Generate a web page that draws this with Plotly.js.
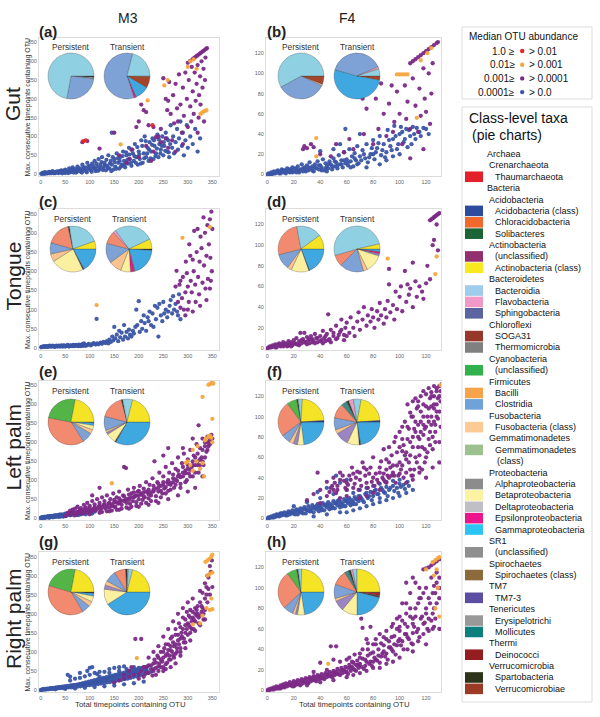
<!DOCTYPE html>
<html><head><meta charset="utf-8">
<script src="https://cdn.plot.ly/plotly-3.0.1.min.js"></script>
<style>html,body{margin:0;padding:0;background:#fff}#chart{width:600px;height:717px}</style>
</head><body><div id="chart"></div>
<script>
// ---------------- DATA ----------------
const columnTitles = ['M3', 'F4'];
const rowTitles = ['Gut', 'Tongue', 'Left palm', 'Right palm'];
const panelLetters = ['(a)','(b)','(c)','(d)','(e)','(f)','(g)','(h)'];
const xTicksM3 = [0,50,100,150,200,250,300,350];
const xTicksF4 = [0,20,40,60,80,100,120];
const yTicksM3 = [0,50,100,150,200,250,300,350];
const yTicksF4 = [0,20,40,60,80,100,120];
const abundanceBins = [['1.0 \u2265','> 0.01'],['0.01\u2265','> 0.001'],['0.001\u2265','> 0.0001'],['0.0001\u2265','> 0.0']];

// (a) Gut M3  [total timepoints, max consecutive]
const gutM3Blue = [[1,1],[3,1],[5,2],[8,1],[10,3],[12,2],[15,4],[18,2],[20,5],[22,3],[25,6],[28,4],[30,3],[33,7],[35,5],[38,8],[40,4],[42,10],[45,6],[48,9],[50,3],[50,12],[55,7],[58,15],[60,5],[62,10],[65,18],[68,8],[70,13],[72,4],[75,20],[78,10],[80,15],[82,6],[85,25],[88,12],[90,18],[92,8],[95,30],[98,14],[100,22],[102,10],[105,28],[108,16],[110,35],[112,8],[115,20],[118,40],[120,12],[122,25],[125,45],[128,18],[130,30],[133,10],[135,22],[138,50],[140,15],[143,35],[145,25],[148,12],[150,40],[152,20],[155,55],[158,30],[160,15],[162,45],[165,25],[168,60],[170,35],[172,18],[175,50],[178,28],[180,70],[182,40],[185,22],[188,55],[190,35],[192,80],[195,45],[198,25],[200,60],[145,110],[202,40],[205,90],[208,30],[210,55],[212,100],[215,45],[218,70],[220,35],[222,85],[225,60],[228,95],[230,40],[232,75],[235,55],[238,105],[240,45],[242,80],[245,65],[248,100],[250,50],[252,75],[255,110],[258,60],[260,90],[262,45],[265,130],[268,70],[270,100],[272,55],[275,85],[278,120],[280,65],[282,95],[285,140],[288,75],[290,110],[292,50],[295,90],[298,130],[300,70],[305,100],[310,80],[315,120],[320,60],[325,95]];
const gutM3BlueBand = [[5,4],[7,2],[9,5],[14,2],[17,6],[21,3],[24,8],[27,2],[31,5],[36,3],[41,7],[44,2],[47,5],[52,8],[56,3],[61,6],[64,12],[67,4],[71,9],[74,6],[77,14],[81,9],[84,4],[87,17],[91,11],[94,5],[97,20],[101,15],[104,6],[107,22],[111,13],[114,28],[117,9],[121,18],[124,32],[127,11],[131,24],[134,38],[137,16],[141,28],[144,8],[147,45],[151,32],[154,14],[157,42],[161,35],[164,20],[167,48],[171,25],[174,58],[177,38],[181,52],[184,30],[187,65],[191,48],[194,30],[197,72],[201,52],[204,28],[207,75],[211,42],[214,88],[217,55],[221,65],[224,42],[227,78],[231,90],[234,48],[237,68],[241,92],[244,55],[247,75],[251,85],[254,62],[257,95],[261,58],[264,80]];
const gutM3Purple = [[85,85],[95,88],[120,68],[150,110],[175,30],[180,40],[195,125],[200,140],[205,185],[210,170],[215,165],[220,130],[225,35],[230,125],[235,98],[240,100],[245,120],[250,255],[255,200],[258,170],[260,195],[262,245],[265,160],[268,90],[270,210],[272,135],[275,240],[278,175],[280,140],[282,265],[285,185],[288,110],[290,230],[292,155],[295,270],[298,200],[300,125],[302,250],[305,180],[307,140],[308,285],[310,220],[312,160],[314,270],[316,195],[318,240],[320,110],[320,290],[322,150],[323,210],[325,260],[326,185],[328,300],[330,230],[332,280],[333,140],[335,250],[336,310],[300,296],[305,301],[310,306],[313,309],[316,312],[319,315],[322,318],[325,321],[328,324],[331,327],[334,330],[337,333],[339,335],[160,50],[185,65],[200,45],[215,75],[230,60],[245,85],[260,70],[275,60],[255,95],[290,80]];
const gutM3Orange = [[163,79],[259,250],[252,236],[218,196],[326,160],[329,163],[332,166],[335,168],[338,170],[305,300],[312,305],[318,280],[300,285]];
const gutM3Red = [[87,88],[92,90],[228,130]];

// (b) Gut F4
const gutF4Blue = [[0,0],[1,1],[2,0],[3,2],[4,1],[5,3],[6,1],[7,2],[8,4],[9,1],[10,3],[11,5],[12,2],[13,4],[14,1],[15,6],[16,3],[17,2],[18,5],[19,7],[20,3],[21,6],[22,2],[23,8],[24,4],[25,5],[26,10],[27,3],[28,7],[29,5],[30,9],[31,4],[32,12],[33,6],[34,8],[35,3],[36,10],[37,6],[38,13],[39,5],[40,9],[41,7],[42,15],[43,4],[44,11],[45,8],[46,6],[47,13],[48,10],[49,5],[50,16],[51,8],[52,12],[53,6],[54,19],[55,10],[56,14],[57,7],[58,22],[59,11],[60,15],[61,9],[62,25],[63,13],[64,18],[65,8],[66,21],[67,14],[68,28],[69,11],[70,18],[72,24],[74,16],[75,30],[76,12],[78,20],[80,34],[81,15],[83,26],[85,38],[86,19],[88,30],[90,22],[91,44],[93,28],[95,35],[96,48],[98,25],[100,40],[101,47],[103,32],[105,45],[106,27],[108,38],[110,47],[112,35],[115,42],[118,46],[85,10],[90,14],[95,18],[59,45],[70,40],[40,23],[50,25],[55,30],[45,3],[75,7],[80,20],[100,20]];
const gutF4BlueBand = [[3,0],[5,1],[7,3],[10,1],[12,4],[14,3],[17,5],[19,2],[22,5],[24,2],[27,6],[29,3],[31,7],[34,4],[36,7],[39,9],[41,4],[44,6],[46,10],[49,8],[51,13],[53,9],[56,10],[58,14],[61,12],[63,7],[66,16],[68,10],[71,14],[73,20],[77,17],[79,26],[82,22],[84,31],[87,24],[89,17],[92,34],[94,24],[97,38],[99,30],[102,42],[104,35],[107,44],[109,30],[111,40],[113,46],[116,38],[120,45],[122,40]];
const gutF4Purple = [[27,25],[28,28],[30,26],[33,30],[35,27],[40,20],[48,18],[52,30],[58,22],[62,35],[65,25],[70,78],[72,75],[73,40],[75,65],[78,83],[80,30],[82,75],[84,45],[86,90],[88,60],[90,38],[92,70],[94,88],[95,42],[96,52],[98,82],[100,60],[102,30],[104,88],[105,55],[106,72],[108,45],[110,95],[112,68],[114,42],[115,85],[116,58],[118,105],[119,75],[120,62],[122,100],[123,50],[124,80],[125,110],[118,25],[108,16],[108,110],[110,112],[112,114],[114,116],[116,118],[118,120],[120,122],[122,124],[124,126],[126,128],[128,130],[129,131]];
const gutF4Orange = [[98,99],[100,99],[102,99],[104,99],[106,99],[37,36],[37,18],[113,56],[124,125],[121,120],[116,113]];
const gutF4Red = [];

// (c) Tongue M3
const tongueM3Blue = [[2,3],[5,4],[8,3],[12,5],[15,4],[18,6],[22,4],[25,5],[28,3],[32,6],[35,4],[38,5],[42,7],[45,4],[48,6],[52,5],[55,8],[58,4],[62,6],[65,7],[68,5],[72,8],[75,6],[78,9],[82,5],[85,10],[88,12],[92,6],[95,8],[98,11],[102,7],[105,10],[108,13],[112,9],[115,12],[118,10],[122,14],[125,11],[128,16],[132,13],[135,18],[138,12],[140,22],[143,16],[146,30],[148,20],[150,55],[152,25],[155,35],[158,18],[160,45],[162,28],[165,40],[168,22],[170,60],[172,30],[175,42],[178,25],[180,48],[182,35],[185,30],[188,45],[190,38],[193,55],[195,100],[197,60],[200,122],[202,42],[205,70],[207,50],[210,85],[212,65],[215,45],[218,80],[220,70],[222,95],[225,60],[228,90],[230,55],[233,110],[235,75],[238,105],[240,30],[242,115],[245,85],[248,70],[250,120],[252,90],[255,100],[258,80],[260,95],[263,110],[265,125],[268,90],[270,135],[272,100],[275,115],[278,95],[280,85],[282,140],[285,75],[114,76]];
const tongueM3BlueBand = [[1,2],[4,3],[7,5],[10,4],[14,3],[17,5],[20,4],[24,6],[27,5],[30,4],[34,5],[37,6],[40,4],[44,5],[47,7],[50,4],[54,6],[57,5],[60,7],[64,5],[67,8],[70,6],[74,7],[77,5],[80,7],[84,8],[87,6],[90,9]];
const tongueM3Purple = [[277,201],[275,160],[280,120],[283,165],[285,175],[288,130],[290,185],[292,100],[295,145],[296,225],[298,195],[300,160],[302,120],[303,270],[305,240],[306,175],[308,145],[310,230],[312,200],[313,305],[315,165],[316,120],[318,250],[320,310],[321,185],[323,140],[324,225],[326,290],[328,260],[330,170],[332,340],[333,215],[335,300],[336,155],[338,240],[340,320],[341,180],[343,270],[345,335],[346,235],[348,355],[349,200],[350,310],[347,175],[345,155],[338,125],[325,110],[310,95],[300,100],[295,85],[285,105]];
const tongueM3Orange = [[114,112],[289,287],[345,315]];
const tongueM3Red = [];

// (d) Tongue F4
const tongueF4Blue = [];
const tongueF4Purple = [[0,0],[1,1],[2,2],[3,1],[4,3],[5,2],[6,4],[7,1],[8,3],[9,5],[10,2],[11,4],[12,6],[13,3],[14,5],[15,2],[16,7],[17,4],[18,6],[19,3],[20,8],[21,5],[22,10],[23,4],[24,7],[25,15],[26,5],[27,9],[28,15],[29,6],[30,11],[31,8],[32,5],[33,12],[34,9],[35,7],[36,14],[37,10],[38,6],[40,12],[41,8],[42,17],[43,10],[44,7],[45,14],[46,33],[47,9],[48,18],[50,12],[52,22],[53,10],[55,16],[56,28],[58,13],[59,20],[60,25],[62,15],[63,30],[65,20],[66,12],[68,26],[69,35],[70,18],[72,28],[73,40],[75,22],[76,32],[78,26],[79,38],[80,30],[81,20],[83,36],[84,28],[85,44],[86,32],[88,24],[89,38],[90,30],[91,46],[92,62],[93,35],[95,42],[96,28],[97,55],[98,38],[100,50],[101,60],[102,36],[104,75],[105,45],[106,62],[107,52],[108,58],[110,40],[112,65],[113,50],[115,60],[117,55],[118,48],[120,63],[121,80],[123,67],[125,100],[126,105],[128,120],[129,95],[92,77],[110,83],[123,124],[124,125],[125,126],[126,127],[127,128],[128,129],[129,130],[130,131]];
const tongueF4PurpleBand = [[2,1],[4,2],[6,1],[8,4],[10,3],[12,2],[14,4],[16,3],[18,2],[20,5],[22,4],[24,3],[26,8],[28,6],[30,4],[32,9],[34,6],[36,5],[38,10],[40,7],[42,5],[44,12],[46,8],[48,6],[50,15],[52,9],[54,13],[56,18],[58,8],[60,12]];
const tongueF4Orange = [[91,87],[128,89],[127,72]];
const tongueF4Red = [];

// (e) Left palm M3
const leftM3Blue = [[0,0],[2,1],[4,2],[6,1],[8,3],[10,2],[12,4],[14,3],[16,5],[18,2],[20,4],[22,6],[24,3],[26,5],[28,7],[30,4],[32,6],[34,8],[36,5],[38,9],[40,6],[42,10],[44,7],[46,4],[48,9],[50,12],[52,6],[55,10],[58,14],[60,8],[63,12],[65,17],[68,10],[70,14],[73,9],[75,16],[78,12],[80,20],[85,15],[90,18],[95,14],[100,20],[110,17]];
const leftM3BlueBand = [[1,1],[3,2],[5,0],[7,3],[9,1],[11,3],[13,2],[15,4],[17,1],[19,5],[21,3],[23,5],[25,2],[27,6],[29,3],[31,7],[33,4],[35,6],[37,3],[39,7],[41,4],[43,8],[45,5],[47,9],[49,6],[51,10],[53,7],[56,11],[59,8],[61,12],[64,9],[66,13],[69,7],[72,11],[74,14],[77,8],[79,12],[82,10],[87,12],[92,10],[97,16],[105,12]];
const leftM3Purple = [[50,5],[55,14],[60,20],[62,10],[65,22],[68,15],[70,25],[72,8],[75,30],[78,18],[80,12],[82,26],[85,20],[88,35],[90,14],[92,28],[95,40],[98,22],[100,32],[102,16],[105,45],[108,25],[110,36],[112,20],[115,50],[118,30],[120,40],[122,22],[125,55],[128,34],[130,45],[132,25],[135,60],[138,38],[140,28],[142,50],[145,32],[148,65],[150,42],[152,30],[155,55],[158,38],[160,70],[162,45],[165,35],[168,60],[170,135],[172,48],[175,40],[178,75],[180,52],[182,38],[185,65],[188,45],[190,80],[192,58],[195,42],[198,70],[200,50],[202,85],[205,62],[208,48],[210,78],[212,55],[215,95],[218,68],[220,52],[222,88],[225,60],[228,105],[230,75],[232,150],[235,58],[238,95],[240,70],[242,120],[245,85],[248,65],[250,110],[252,78],[255,135],[258,95],[260,72],[262,120],[265,88],[268,145],[270,105],[272,80],[275,130],[278,98],[280,160],[282,115],[285,90],[288,145],[290,110],[292,170],[295,125],[298,100],[300,155],[302,118],[305,180],[308,135],[310,110],[312,165],[315,140],[318,195],[320,150],[322,120],[325,185],[328,160],[330,210],[332,140],[335,200],[338,175],[340,215],[342,190],[345,205],[348,220],[350,210],[315,80],[330,110],[300,70],[280,60],[260,50],[240,40],[220,35],[200,30],[180,25],[160,22],[140,18],[120,14],[100,10],[260,185],[250,165],[290,185],[310,210],[322,245],[120,80],[105,60],[174,132]];
const leftM3PurpleBand = [[60,8],[65,12],[70,10],[75,16],[80,22],[85,12],[90,24],[95,18],[100,26],[105,20],[110,28],[115,24],[120,32],[125,28],[130,36],[135,30],[140,40],[145,36],[150,48],[155,42],[160,52],[165,46],[170,58],[175,50],[180,62],[185,55],[190,68],[195,60],[200,72],[205,65],[210,58],[215,70],[220,75],[225,68],[230,85],[235,78],[240,90],[245,72],[250,95],[255,82],[260,100],[265,92],[270,115],[275,102],[280,125],[285,108],[290,135],[295,118],[300,140],[305,128],[310,150],[315,160],[320,170],[325,155],[330,180],[335,190],[340,200],[345,195],[335,160],[325,140],[315,120],[305,110],[295,95],[285,80],[275,88],[265,75],[255,65],[245,55],[235,45],[225,45],[215,40],[205,38],[195,32],[185,30],[175,28],[165,25],[155,22],[145,20],[135,18],[125,16]];
const leftM3PurpleCore = [[150,30],[160,40],[170,45],[180,48],[190,55],[200,60],[210,68],[220,62],[230,70],[240,80],[250,88],[260,90],[270,95],[280,110],[290,120],[300,130],[310,140],[320,140],[330,150],[340,180]];
const leftM3Orange = [[342,352],[345,354],[348,356],[350,358],[352,355],[330,320],[350,262],[337,210],[342,215],[345,218],[348,212],[335,205],[350,200],[320,190],[318,150],[330,145],[325,130],[333,110],[305,140],[310,125],[300,150],[296,146],[145,92],[310,180]];
const leftM3Red = [];

// (f) Left palm F4
const leftF4Blue = [[0,0],[1,1],[2,1],[3,2],[4,1],[5,3],[6,2],[7,4],[8,3],[9,2],[10,5],[11,3],[12,4],[13,6],[14,3],[15,5],[16,7],[17,4],[18,6],[19,8],[20,5],[21,7],[22,9],[23,4],[24,8],[25,10],[26,6],[27,9],[28,11],[29,5],[30,8],[31,12],[32,7],[33,10],[34,13],[35,6],[36,11],[37,9],[38,14],[39,7],[40,12],[41,10],[42,15],[43,8],[44,13],[45,11],[46,16],[47,9],[48,14],[49,12],[50,17],[51,10],[52,15],[53,13],[54,18],[55,11],[56,16],[57,14],[58,19],[59,12],[60,17],[61,15],[62,20],[63,13],[64,18],[65,16],[66,21],[67,14],[68,19],[69,17],[70,22],[72,18],[74,24],[76,20],[78,26],[80,22],[82,28],[84,24],[86,30],[88,26],[90,31],[92,28],[95,32],[98,30],[100,34],[103,33],[106,36],[20,12],[30,16],[40,20],[50,24],[60,28],[35,2],[45,4],[55,6],[65,8],[75,12],[85,16],[95,20],[105,25],[38,26],[45,30],[55,35],[52,42],[60,38]];
const leftF4BlueBand = [[1,0],[3,1],[5,1],[7,2],[9,4],[11,5],[13,4],[15,3],[17,6],[19,5],[21,4],[23,7],[25,6],[27,5],[29,9],[31,8],[33,7],[35,10],[37,12],[39,10],[41,8],[43,13],[45,14],[47,12],[49,10],[51,15],[53,17],[55,14],[57,12],[59,17],[61,19],[63,16],[65,14],[67,19],[69,22],[71,20],[73,16],[75,25],[77,22],[79,18],[81,27],[83,24],[85,20],[87,28],[89,25],[91,22],[93,30],[96,27],[99,25],[101,31],[104,29],[107,32],[70,28],[80,32],[90,36],[100,38],[65,25],[75,30],[85,34],[95,37],[60,6],[70,10],[80,14],[90,18],[100,22],[110,28]];
const leftF4Purple = [[30,18],[35,24],[40,28],[45,36],[48,30],[50,40],[53,32],[55,45],[58,37],[60,28],[62,42],[64,50],[66,34],[68,46],[70,38],[72,55],[74,42],[76,30],[78,50],[80,60],[82,44],[84,35],[86,56],[88,68],[90,48],[92,40],[94,62],[96,75],[98,52],[100,85],[100,44],[102,66],[104,95],[105,58],[106,78],[108,48],[109,100],[110,70],[111,88],[112,60],[113,108],[114,80],[115,50],[116,95],[117,70],[118,112],[119,88],[120,60],[121,100],[122,78],[123,118],[124,92],[125,68],[126,108],[127,85],[128,125],[129,98],[130,75],[131,115],[132,132],[120,40],[110,38],[125,50],[130,55],[128,105],[126,120],[124,110],[118,82],[114,92],[108,62],[102,52],[96,42],[90,35],[85,28],[80,25],[75,22],[70,20],[112,118],[116,120],[120,122],[124,124],[128,128],[130,130],[94,42],[88,44],[60,22],[52,25],[38,45]];
const leftF4PurpleBand = [[40,15],[45,22],[50,28],[55,20],[60,35],[65,30],[70,45],[75,35],[80,40],[85,50],[90,58],[95,52],[98,65],[100,55],[103,72],[105,65],[107,88],[110,80],[112,95],[114,70],[116,85],[118,100],[120,90],[122,108],[124,100],[126,95],[128,112],[130,105],[131,125],[129,118],[127,92],[125,80],[123,72],[121,65],[119,55],[117,48],[115,62],[113,55],[111,48],[109,42],[107,55],[105,45],[103,40],[101,48],[99,42],[97,35],[95,45],[93,50],[91,42],[89,36],[87,40],[85,45],[83,38],[81,32],[79,36],[77,44],[75,48],[73,50],[71,32],[69,28],[67,40],[65,44],[63,38],[61,33],[59,30],[57,42],[55,38],[53,28],[51,35],[49,32],[47,26],[106,112],[110,115],[114,110],[118,125],[122,128],[126,130],[108,104],[102,90],[97,80],[92,70]];
const leftF4PurpleCore = [[100,70],[102,78],[104,62],[106,90],[108,75],[110,100],[112,85],[114,115],[116,105],[118,92],[120,110],[122,95],[124,120],[126,112],[128,100],[130,120],[115,78],[119,68],[123,85],[127,75],[131,90],[105,35],[110,42],[115,45],[88,38],[92,55]];
const leftF4Orange = [[131,131]];
const leftF4Red = [];

// (g) Right palm M3
const rightM3Blue = [[0,0],[3,1],[6,2],[9,1],[12,3],[15,2],[18,4],[21,3],[24,5],[27,3],[30,6],[33,4],[36,7],[39,5],[42,8],[45,5],[48,9],[51,6],[54,10],[57,7],[60,11],[63,7],[66,12],[69,8],[72,13],[75,9],[78,14],[81,10],[84,15],[87,11],[90,16],[93,12],[96,17],[99,13],[102,18],[105,14],[108,19],[111,15],[114,20],[117,16],[120,22],[123,17],[126,24],[129,18],[132,25],[135,20],[138,27],[141,21],[144,28],[147,22],[150,30],[153,24],[156,32],[159,26],[162,34],[165,27],[168,36],[171,29],[174,38],[177,30],[180,40],[183,32],[186,42],[189,34],[192,44],[195,36],[198,46],[201,38],[204,48],[207,40],[210,50],[213,42],[216,52],[219,45],[30,2],[50,3],[70,4],[90,6],[110,8],[130,10],[150,12],[170,15],[190,18],[210,22],[55,40],[60,35],[80,45],[95,50],[100,58],[105,60],[120,35],[140,45],[160,50],[175,55],[190,60],[200,55],[130,48],[115,42],[225,48],[230,55]];
const rightM3BlueBand = [[2,1],[5,2],[8,3],[11,2],[14,4],[17,3],[20,5],[23,4],[26,6],[29,5],[32,7],[35,6],[38,8],[41,7],[44,9],[47,8],[50,10],[53,9],[56,11],[59,10],[62,12],[65,11],[68,13],[71,12],[74,14],[77,13],[80,16],[83,14],[86,18],[89,16],[92,20],[95,18],[98,22],[101,20],[104,24],[107,22],[110,26],[113,24],[116,28],[119,26],[122,30],[125,28],[128,32],[131,30],[134,34],[137,32],[140,36],[143,34],[146,38],[149,36],[152,40],[155,38],[158,42],[161,40],[164,44],[167,42],[170,46],[173,44],[176,48],[179,46],[182,50],[185,48],[188,52],[191,50],[194,54],[197,52],[200,58],[203,50],[206,58],[209,56],[212,60],[215,55],[218,62],[100,40],[110,45],[120,48],[140,55],[150,58],[160,60],[170,62],[60,25],[70,30],[80,32],[90,36]];
const rightM3Purple = [[150,20],[160,25],[170,30],[180,35],[190,40],[200,30],[210,35],[215,60],[220,45],[225,65],[230,50],[232,80],[235,58],[238,90],[240,62],[242,70],[245,100],[248,75],[250,85],[252,110],[255,68],[258,95],[260,120],[262,80],[265,105],[268,140],[270,90],[272,115],[275,160],[278,100],[280,130],[282,175],[285,110],[287,150],[290,190],[292,125],[295,170],[298,205],[300,145],[302,195],[305,210],[308,180],[310,205],[312,160],[315,215],[318,195],[320,220],[322,175],[325,230],[328,205],[330,255],[332,185],[335,280],[338,270],[340,300],[342,295],[345,325],[347,310],[349,340],[335,240],[325,260],[310,240],[300,230],[290,215],[280,200],[270,180],[260,160],[250,140],[240,115],[230,100],[220,85],[285,90],[295,110],[305,130],[265,60],[250,50],[275,70],[193,134],[205,134],[170,40],[180,50],[185,60]];
const rightM3PurpleBand = [[200,42],[205,50],[210,60],[215,45],[220,65],[225,55],[230,70],[235,72],[240,85],[245,80],[250,100],[255,90],[260,105],[265,115],[270,125],[275,120],[280,145],[285,135],[290,160],[295,150],[300,175],[305,165],[310,190],[315,180],[320,200],[325,195],[330,215],[335,210],[340,230],[345,250],[350,270],[255,120],[265,135],[275,145],[285,165],[295,185],[305,190],[315,200],[245,60],[255,55],[265,80],[275,95],[285,100],[295,125],[305,150],[315,155],[325,170],[335,185]];
const rightM3PurpleCore = [[250,60],[258,72],[262,90],[268,100],[272,85],[278,110],[282,120],[288,140],[292,135],[298,160],[302,170],[308,160],[312,185],[318,210],[322,190],[328,220],[332,200],[338,250],[342,265],[240,50],[235,40],[228,38]];
const rightM3Orange = [[336,336],[340,340],[344,344],[348,350],[350,355],[345,305],[350,308],[340,300],[345,210],[350,212],[338,215],[325,175],[330,195],[348,240],[196,84],[310,172]];
const rightM3Red = [];

// (h) Right palm F4
const rightF4Blue = [];
const rightF4Purple = [[0,0],[1,1],[2,1],[3,2],[4,1],[5,3],[6,2],[7,4],[8,2],[9,3],[10,5],[11,3],[12,6],[13,4],[14,7],[15,4],[16,6],[17,8],[18,5],[19,7],[20,9],[21,5],[22,8],[23,10],[24,6],[25,9],[26,11],[27,7],[28,10],[29,12],[30,8],[31,11],[32,13],[33,9],[34,12],[35,14],[36,10],[37,13],[38,15],[39,11],[40,14],[41,16],[42,12],[43,15],[44,17],[45,13],[46,16],[47,18],[48,14],[49,17],[50,19],[51,15],[52,18],[53,21],[54,16],[55,19],[56,22],[57,17],[58,20],[59,23],[60,18],[61,22],[62,25],[63,19],[64,23],[65,27],[66,20],[67,25],[68,29],[69,22],[70,26],[72,31],[74,24],[76,34],[78,28],[80,37],[82,30],[84,40],[86,33],[88,44],[90,36],[92,48],[94,40],[96,53],[98,44],[100,58],[102,48],[104,65],[106,52],[108,72],[110,56],[112,80],[114,60],[116,90],[118,65],[120,100],[122,70],[124,110],[126,80],[128,115],[130,90],[10,2],[20,4],[30,5],[40,8],[50,10],[60,13],[70,17],[80,22],[90,26],[100,32],[110,38],[120,45],[52,43],[48,43],[78,62],[72,61],[71,70],[105,75],[115,100],[118,118],[120,119],[122,120],[124,122],[126,124],[128,126],[130,128],[112,105],[108,95],[100,72],[94,62],[88,52],[82,45],[76,40],[70,32],[55,28],[50,30],[40,27],[45,20],[35,18],[102,85],[98,70],[125,60],[130,60],[127,95],[105,105],[110,110]];
const rightF4PurpleBand = [[1,0],[3,1],[5,1],[7,2],[9,2],[11,4],[13,3],[15,6],[17,5],[19,4],[21,7],[23,6],[25,5],[27,9],[29,8],[31,7],[33,11],[35,10],[37,9],[39,13],[41,12],[43,11],[45,15],[47,14],[49,13],[51,17],[53,16],[55,15],[57,20],[59,18],[61,16],[63,22],[65,21],[67,19],[69,25],[71,23],[73,21],[75,28],[77,26],[79,24],[81,32],[83,29],[85,27],[87,36],[89,33],[91,30],[93,42],[95,38],[97,35],[99,48],[101,44],[103,40],[105,55],[107,50],[109,46],[111,62],[113,57],[115,52],[117,72],[119,66],[121,60],[123,85],[125,75],[127,70],[129,100],[60,30],[70,36],[80,45],[90,50],[100,62],[110,70],[120,80],[128,105],[75,50],[85,55],[95,65],[105,85],[115,90],[125,95],[130,110]];
const rightF4PurpleCore = [[62,32],[64,28],[66,35],[68,24],[72,40],[74,30],[76,46],[78,36],[80,28],[82,50],[84,34],[86,46],[88,38],[90,58],[92,42],[94,52],[96,45],[98,60],[100,50],[102,68],[104,55],[106,62],[108,80],[110,65],[112,72],[114,85],[116,70],[118,95],[120,75],[122,90],[124,68],[126,102],[128,85],[130,100],[106,40],[110,45],[114,48],[118,55],[122,58],[126,62],[95,28],[85,22],[75,19],[65,15]];
const rightF4Orange = [[125,125],[127,127],[129,129],[130,130],[128,118],[126,112],[129,100],[127,80],[130,72],[120,118],[46,26]];
const rightF4Red = [];

// Pie charts: class-level taxa composition (percent), in drawing order from 3 o'clock counter-clockwise
const pieGutM3Persistent = [['Bacteroidia',72],['Clostridia',26],['Erysipelotrichi',1],['Spartobacteria',1]];
const pieGutM3Transient = [['Bacteroidia',21],['Clostridia',59],['Epsilonproteobacteria',1.5],['Gammaproteobacteria',10],['Verrucomicrobiae',8],['Fusobacteria (class)',0.5]];
const pieGutF4Persistent = [['Bacteroidia',58],['Clostridia',35],['Fusobacteria (class)',1],['Verrucomicrobiae',6]];
const pieGutF4Transient = [['Bacteroidia',5],['Flavobacteria',1.5],['Clostridia',39],['Gammaproteobacteria',51.5],['Verrucomicrobiae',3]];
const pieTongueM3Persistent = [['Actinobacteria (class)',5.5],['Bacteroidia',22],['Spartobacteria',1],['Bacilli',17],['Clostridia',8],['Fusobacteria (class)',5.5],['Betaproteobacteria',23],['Solibacteres',1],['Gammaproteobacteria',17]];
const pieTongueM3Transient = [['Actinobacteria (class)',7],['Bacteroidia',28],['Flavobacteria',2],['Bacilli',9],['Clostridia',14],['Fusobacteria (class)',9],['Betaproteobacteria',7],['Epsilonproteobacteria',3],['Gammaproteobacteria',20],['Spartobacteria',1]];
const pieTongueF4Persistent = [['Actinobacteria (class)',10],['Bacteroidia',18],['Bacilli',26],['Clostridia',11],['Fusobacteria (class)',3],['Betaproteobacteria',12.5],['Spartobacteria',0.5],['Gammaproteobacteria',19]];
const pieTongueF4Transient = [['Actinobacteria (class)',3.5],['Bacteroidia',51],['Bacilli',8],['Clostridia',17],['Fusobacteria (class)',3],['Betaproteobacteria',12.5],['Alphaproteobacteria',1.5],['Epsilonproteobacteria',1.5],['Gammaproteobacteria',2]];
const pieLeftM3Persistent = [['Actinobacteria (class)',22],['Cyanobacteria',25],['Bacilli',37],['Clostridia',7.5],['Fusobacteria (class)',3],['Betaproteobacteria',3],['Gammaproteobacteria',2],['Spartobacteria',0.5]];
const pieLeftM3Transient = [['Actinobacteria (class)',21],['Bacteroidia',7],['Spartobacteria',1],['Bacilli',17],['Clostridia',10],['Fusobacteria (class)',1.5],['Alphaproteobacteria',1.5],['Betaproteobacteria',7],['Solibacteres',1],['Gammaproteobacteria',33]];
const pieLeftF4Persistent = [['Acidobacteria (class)',1],['Actinobacteria (class)',23],['Bacteroidia',3],['Spartobacteria',1],['Cyanobacteria',7],['Bacilli',25],['Clostridia',6.5],['Fusobacteria (class)',3],['Alphaproteobacteria',3],['Betaproteobacteria',4.5],['Gammaproteobacteria',23]];
const pieLeftF4Transient = [['Acidobacteria (class)',1],['Actinobacteria (class)',21],['Bacteroidia',5.5],['Flavobacteria',3.5],['Thermomicrobia',1.5],['Sphingobacteria',4],['Bacilli',10.5],['Clostridia',8.5],['Fusobacteria (class)',3],['Alphaproteobacteria',9.5],['Betaproteobacteria',8.5],['Spartobacteria',1],['Gammaproteobacteria',22.5]];
const pieRightM3Persistent = [['Actinobacteria (class)',22],['Cyanobacteria',23.5],['Bacilli',38],['Clostridia',6],['Fusobacteria (class)',3.5],['Betaproteobacteria',4],['Gammaproteobacteria',2],['Spartobacteria',1]];
const pieRightM3Transient = [['Actinobacteria (class)',21],['Bacteroidia',3],['Erysipelotrichi',1],['Spartobacteria',1],['Bacilli',8],['Clostridia',8],['Fusobacteria (class)',3],['Alphaproteobacteria',3],['Betaproteobacteria',11],['Gammaproteobacteria',41]];
const pieRightF4Persistent = [['Actinobacteria (class)',24.5],['Bacteroidia',2.5],['Spartobacteria',1],['Cyanobacteria',7],['Bacilli',27],['Clostridia',7],['Fusobacteria (class)',2],['Alphaproteobacteria',1.5],['Betaproteobacteria',5],['Gammaproteobacteria',22.5]];
const pieRightF4Transient = [['Actinobacteria (class)',25],['Bacteroidia',3],['Flavobacteria',1.5],['Thermomicrobia',1.5],['Sphingobacteria',3],['Bacilli',10.5],['Clostridia',10],['Fusobacteria (class)',2],['Alphaproteobacteria',7.5],['Betaproteobacteria',11],['Gammaproteobacteria',21],['Solibacteres',1.5],['Deinococci',2],['Spartobacteria',0.5]];

// Taxonomy legend (domain -> phylum -> classes)
const taxaTree = [
  ['Archaea', [['Crenarchaeota', ['Thaumarchaeota']]]],
  ['Bacteria', [
    ['Acidobacteria', ['Acidobacteria (class)','Chloracidobacteria','Solibacteres']],
    ['Actinobacteria', ['(unclassified)','Actinobacteria (class)']],
    ['Bacteroidetes', ['Bacteroidia','Flavobacteria','Sphingobacteria']],
    ['Chloroflexi', ['SOGA31','Thermomicrobia']],
    ['Cyanobacteria', ['(unclassified)']],
    ['Firmicutes', ['Bacilli','Clostridia']],
    ['Fusobacteria', ['Fusobacteria (class)']],
    ['Gemmatimonadetes', ['Gemmatimonadetes (class)']],
    ['Proteobacteria', ['Alphaproteobacteria','Betaproteobacteria','Deltaproteobacteria','Epsilonproteobacteria','Gammaproteobacteria']],
    ['SR1', ['(unclassified)']],
    ['Spirochaetes', ['Spirochaetes (class)']],
    ['TM7', ['TM7-3']],
    ['Tenericutes', ['Erysipelotrichi','Mollicutes']],
    ['Thermi', ['Deinococci']],
    ['Verrucomicrobia', ['Spartobacteria','Verrucomicrobiae']]
  ]]
];

// ---------------- STYLES ----------------
const FONT = 'Liberation Sans, Arial, Helvetica, sans-serif';
const W = 600, H = 717;
const abundanceColors = ['#E3262B', '#F5A63F', '#7B2A86', '#3A55A5'];
const pieColors = {
  'Actinobacteria (class)':'#F4E425','Bacteroidia':'#8FD0E2','Flavobacteria':'#EE9CC6','Sphingobacteria':'#3F8C86',
  'Thermomicrobia':'#2F3B27','Cyanobacteria':'#53B548','Bacilli':'#F28A70','Clostridia':'#7EA2D5',
  'Fusobacteria (class)':'#F8C38F','Alphaproteobacteria':'#9B86C3','Betaproteobacteria':'#FBF0A0',
  'Epsilonproteobacteria':'#E2207F','Gammaproteobacteria':'#40A8E0','Acidobacteria (class)':'#2C3F8E',
  'Deinococci':'#B0242A','Verrucomicrobiae':'#A4462C','Spartobacteria':'#3C3C3C','Solibacteres':'#4A4A4A',
  'Erysipelotrichi':'#9C9C9C'
};
const legendColors = {
  'Crenarchaeota|Thaumarchaeota':'#E3202A','Acidobacteria|Acidobacteria (class)':'#2C4A9E',
  'Acidobacteria|Chloracidobacteria':'#F0682C','Acidobacteria|Solibacteres':'#1B6436',
  'Actinobacteria|(unclassified)':'#92306F','Actinobacteria|Actinobacteria (class)':'#F8E81F',
  'Bacteroidetes|Bacteroidia':'#9FCBEC','Bacteroidetes|Flavobacteria':'#F199C7','Bacteroidetes|Sphingobacteria':'#5B63A0',
  'Chloroflexi|SOGA31':'#96392A','Chloroflexi|Thermomicrobia':'#808080','Cyanobacteria|(unclassified)':'#30B14C',
  'Firmicutes|Bacilli':'#F6A34A','Firmicutes|Clostridia':'#6FA2D9','Fusobacteria|Fusobacteria (class)':'#FDC995',
  'Gemmatimonadetes|Gemmatimonadetes (class)':'#9CC18E','Proteobacteria|Alphaproteobacteria':'#8C8C8C',
  'Proteobacteria|Betaproteobacteria':'#FBF3A1','Proteobacteria|Deltaproteobacteria':'#BFBFC5',
  'Proteobacteria|Epsilonproteobacteria':'#EC168C','Proteobacteria|Gammaproteobacteria':'#2CC4F2',
  'SR1|(unclassified)':'#8F8F8F','Spirochaetes|Spirochaetes (class)':'#8C6A3A','TM7|TM7-3':'#5B4DA2',
  'Tenericutes|Erysipelotrichi':'#999999','Tenericutes|Mollicutes':'#0D7F7D','Thermi|Deinococci':'#951C1F',
  'Verrucomicrobia|Spartobacteria':'#2B3418','Verrucomicrobia|Verrucomicrobiae':'#9C3B25'
};

// ---------------- BUILD ----------------
const px = v => v / W;
const py = v => 1 - v / H;

const panels = [
  [gutM3Red, gutM3Orange, gutM3Purple, gutM3Blue.concat(gutM3BlueBand), pieGutM3Persistent, pieGutM3Transient],
  [gutF4Red, gutF4Orange, gutF4Purple, gutF4Blue.concat(gutF4BlueBand), pieGutF4Persistent, pieGutF4Transient],
  [tongueM3Red, tongueM3Orange, tongueM3Purple, tongueM3Blue.concat(tongueM3BlueBand), pieTongueM3Persistent, pieTongueM3Transient],
  [tongueF4Red, tongueF4Orange, tongueF4Purple.concat(tongueF4PurpleBand), tongueF4Blue, pieTongueF4Persistent, pieTongueF4Transient],
  [leftM3Red, leftM3Orange, leftM3Purple.concat(leftM3PurpleBand, leftM3PurpleCore), leftM3Blue.concat(leftM3BlueBand), pieLeftM3Persistent, pieLeftM3Transient],
  [leftF4Red, leftF4Orange, leftF4Purple.concat(leftF4PurpleBand, leftF4PurpleCore), leftF4Blue.concat(leftF4BlueBand), pieLeftF4Persistent, pieLeftF4Transient],
  [rightM3Red, rightM3Orange, rightM3Purple.concat(rightM3PurpleBand, rightM3PurpleCore), rightM3Blue.concat(rightM3BlueBand), pieRightM3Persistent, pieRightM3Transient],
  [rightF4Red, rightF4Orange, rightF4Purple.concat(rightF4PurpleBand, rightF4PurpleCore), rightF4Blue, pieRightF4Persistent, pieRightF4Transient]
];

const rowsPx = [[38,176],[209,350],[381,520],[552,692]];
const colsPx = [[39,219],[266,441]];
const xRanges = [[-3.5,363.6],[-1,131.3]];
const yRanges = [[-5,362],[-1.5,135]];
const pieRowY = [76, 249, 422, 592];
const pieColX = [[71,127],[301,357]];
const pieRowShift = [0, 2, 0, 0];
const pieTitleY = [47, 219, 391, 562];
const letterY = [31, 201, 371, 541];
const letterX = [37, 265];
const R = 23;

const traces = [];
const layout = {
  width: W, height: H, margin: {l:0, r:0, t:0, b:0},
  paper_bgcolor: '#fff', plot_bgcolor: '#fff', showlegend: false,
  font: {family: FONT, color: '#222'},
  annotations: [], shapes: []
};

function pieTrace(slices, cx, cy) {
  const rev = slices.slice().reverse();
  return {
    type: 'pie', labels: rev.map(s => s[0]), values: rev.map(s => s[1]),
    marker: {colors: rev.map(s => pieColors[s[0]]), line: {color: 'rgba(50,50,50,0.55)', width: 0.5}},
    sort: false, direction: 'clockwise', rotation: 90, textinfo: 'none', hoverinfo: 'label+percent',
    domain: {x: [px(cx - R), px(cx + R)], y: [py(cy + R), py(cy - R)]}, showlegend: false
  };
}

panels.forEach((p, i) => {
  const row = Math.floor(i / 2), col = i % 2, k = i + 1;
  const xa = 'xaxis' + (k > 1 ? k : ''), ya = 'yaxis' + (k > 1 ? k : '');
  const common = {showline: true, mirror: true, linecolor: '#dcdcdc', linewidth: 1, showgrid: false,
    zeroline: false, ticks: '', tickfont: {size: 5.5, color: '#666', family: FONT}, fixedrange: true};
  layout[xa] = Object.assign({}, common, {domain: [px(colsPx[col][0]), px(colsPx[col][1])],
    range: xRanges[col], anchor: 'y' + k, tickmode: 'array',
    tickvals: col === 0 ? xTicksM3 : xTicksF4});
  layout[ya] = Object.assign({}, common, {domain: [py(rowsPx[row][1]), py(rowsPx[row][0])],
    range: yRanges[col], anchor: 'x' + k, tickmode: 'array',
    tickvals: col === 0 ? yTicksM3 : yTicksF4});
  [3, 2, 1, 0].forEach(c => {
    const pts = p[c];
    if (!pts.length) return;
    traces.push({type: 'scatter', mode: 'markers', x: pts.map(q => q[0]), y: pts.map(q => q[1]),
      xaxis: 'x' + k, yaxis: 'y' + k, hoverinfo: 'x+y',
      marker: {size: 4.3, color: abundanceColors[c], opacity: 0.95, line: {width: 0}}});
  });
  const cy = pieRowY[row];
  const sh = col === 0 ? pieRowShift[row] : 0;
  traces.push(pieTrace(p[4], pieColX[col][0] + sh, cy));
  traces.push(pieTrace(p[5], pieColX[col][1] + sh, cy));
  ['Persistent', 'Transient'].forEach((t, j) => {
    layout.annotations.push({text: t, xref: 'paper', yref: 'paper', x: px(pieColX[col][j] + sh), y: py(pieTitleY[row]),
      xanchor: 'center', yanchor: 'middle', showarrow: false, font: {size: 8.3, color: '#333', family: FONT}});
  });
  layout.annotations.push({text: '<b>' + panelLetters[i] + '</b>', xref: 'paper', yref: 'paper',
    x: px(letterX[col]), y: py(letterY[row]), xanchor: 'left', yanchor: 'middle', showarrow: false,
    font: {size: 15, color: '#222', family: FONT}});
});

[[128, columnTitles[0]], [347, columnTitles[1]]].forEach(([x, t]) => {
  layout.annotations.push({text: t, xref: 'paper', yref: 'paper', x: px(x), y: py(18), xanchor: 'center',
    yanchor: 'middle', showarrow: false, font: {size: 14, color: '#222', family: FONT}});
});
rowTitles.forEach((t, r) => {
  const cyRow = (rowsPx[r][0] + rowsPx[r][1]) / 2;
  layout.annotations.push({text: t, xref: 'paper', yref: 'paper', x: px(13), y: py(cyRow - 3), xanchor: 'center',
    yanchor: 'middle', textangle: -90, showarrow: false, font: {size: 21, color: '#222', family: FONT}});
  layout.annotations.push({text: 'Max. consecutive timepoints containing OTU', xref: 'paper', yref: 'paper',
    x: px(27.5), y: py(cyRow), xanchor: 'center', yanchor: 'middle', textangle: -90, showarrow: false,
    font: {size: 7, color: '#333', family: FONT}});
});
colsPx.forEach(c => {
  layout.annotations.push({text: 'Total timepoints containing OTU', xref: 'paper', yref: 'paper',
    x: px((c[0] + c[1]) / 2 + 1), y: py(704), xanchor: 'center', yanchor: 'middle', showarrow: false,
    font: {size: 7.8, color: '#333', family: FONT}});
});

layout.shapes.push({type: 'rect', xref: 'paper', yref: 'paper', x0: px(462), x1: px(592), y0: py(27), y1: py(99),
  line: {color: '#dddddd', width: 1}, fillcolor: '#fff', layer: 'below'});
layout.annotations.push({text: 'Median OTU abundance', xref: 'paper', yref: 'paper', x: px(467), y: py(36),
  xanchor: 'left', yanchor: 'middle', showarrow: false, font: {size: 10, color: '#111', family: FONT}});
abundanceBins.forEach((b, i) => {
  const yy = 51 + i * 13.7;
  layout.annotations.push({text: b[0], xref: 'paper', yref: 'paper', x: px(517), y: py(yy), xanchor: 'right',
    yanchor: 'middle', showarrow: false, font: {size: 10, color: '#111', family: FONT}});
  layout.annotations.push({text: b[1], xref: 'paper', yref: 'paper', x: px(527), y: py(yy), xanchor: 'left',
    yanchor: 'middle', showarrow: false, font: {size: 10, color: '#111', family: FONT}});
  layout.shapes.push({type: 'circle', xref: 'paper', yref: 'paper', x0: px(520), x1: px(524.4), y0: py(yy + 2.2), y1: py(yy - 2.2),
    fillcolor: abundanceColors[i], line: {width: 0}});
});

layout.shapes.push({type: 'rect', xref: 'paper', yref: 'paper', x0: px(462), x1: px(592), y0: py(107), y1: py(702),
  line: {color: '#dddddd', width: 1}, fillcolor: '#fff', layer: 'below'});
layout.annotations.push({text: 'Class-level taxa', xref: 'paper', yref: 'paper', x: px(467), y: py(118),
  xanchor: 'left', yanchor: 'middle', showarrow: false, font: {size: 14, color: '#111', family: FONT}});
layout.annotations.push({text: '(pie charts)', xref: 'paper', yref: 'paper', x: px(470), y: py(135),
  xanchor: 'left', yanchor: 'middle', showarrow: false, font: {size: 14, color: '#111', family: FONT}});
const lines = [];
taxaTree.forEach(([dom, phyla]) => {
  lines.push({t: dom, lv: 0});
  phyla.forEach(([phy, classes]) => {
    lines.push({t: phy, lv: 1});
    classes.forEach(cl => {
      const col = legendColors[phy + '|' + cl];
      if (cl.length > 22) {
        const cut = cl.lastIndexOf(' ');
        lines.push({t: cl.slice(0, cut), lv: 2, color: col});
        lines.push({t: cl.slice(cut + 1), lv: 3});
      } else lines.push({t: cl, lv: 2, color: col});
    });
  });
});
const lvX = [485, 487, 493, 495];
lines.forEach((l, i) => {
  const yy = 154 + i * 11.38;
  layout.annotations.push({text: l.t, xref: 'paper', yref: 'paper', x: px(lvX[l.lv]), y: py(yy), xanchor: 'left',
    yanchor: 'middle', showarrow: false, font: {size: 9, color: '#111', family: FONT}});
  if (l.color) layout.shapes.push({type: 'rect', xref: 'paper', yref: 'paper', x0: px(465), x1: px(483),
    y0: py(yy + 5.3), y1: py(yy - 5.3), fillcolor: l.color, line: {width: 0}});
});

Plotly.newPlot('chart', traces, layout, {displayModeBar: false, staticPlot: true});
</script></body></html>
